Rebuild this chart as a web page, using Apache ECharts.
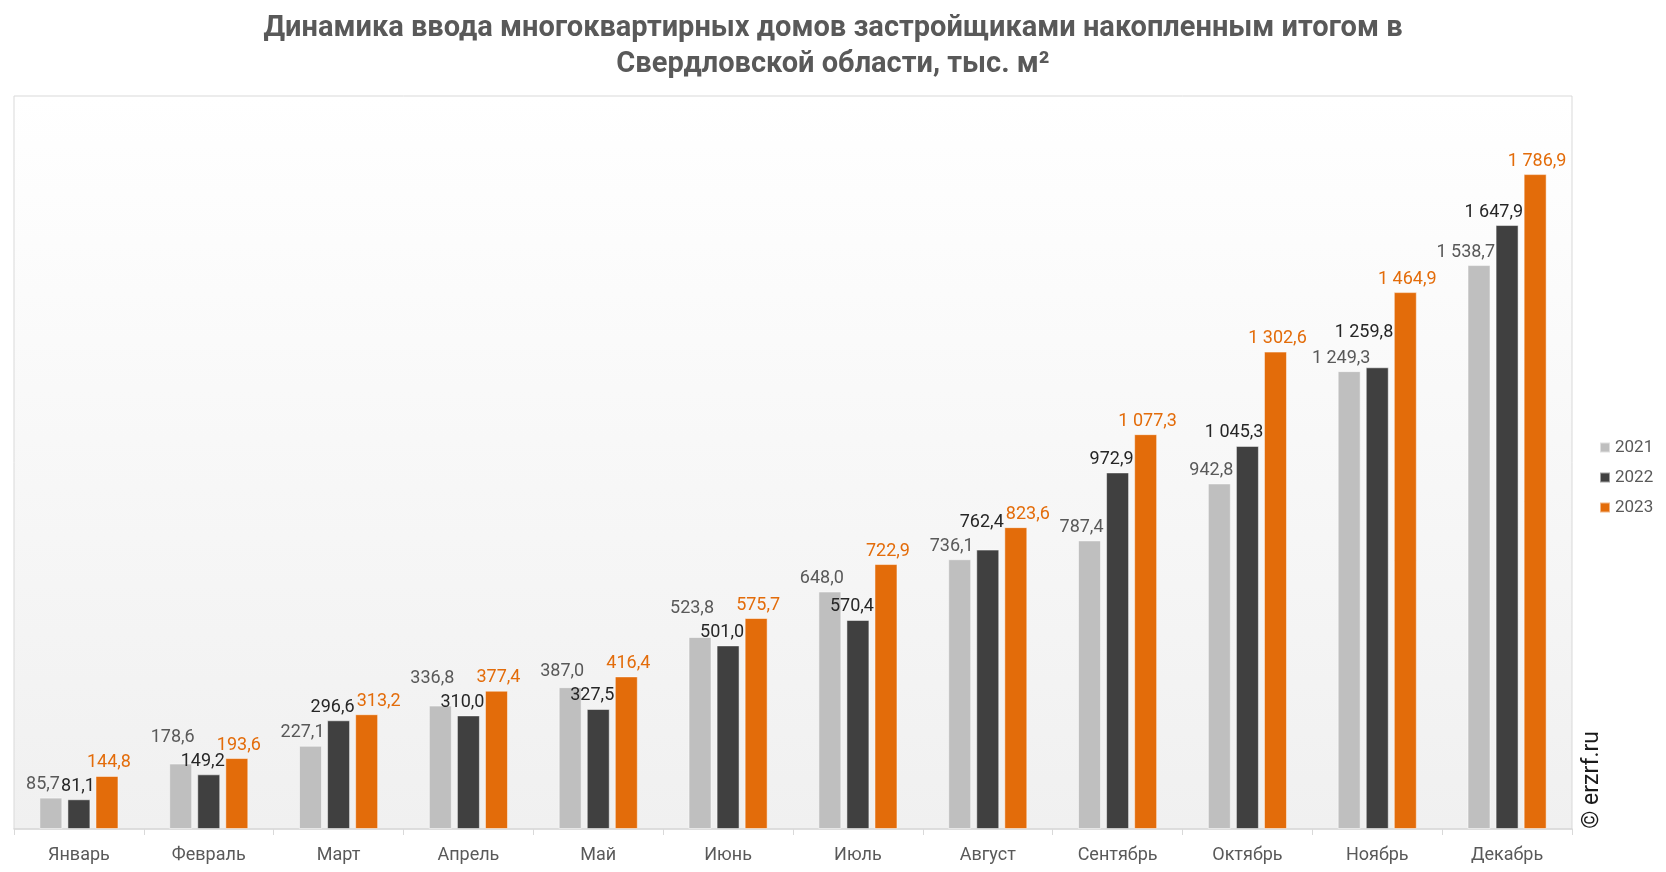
<!DOCTYPE html>
<html>
<head>
<meta charset="utf-8">
<script src="https://cdn.jsdelivr.net/npm/echarts@6/dist/echarts.min.js"></script>
<style>
    html, body { margin: 0; padding: 0; background: #fff; }
    #chart { width: 1666px; height: 872px; }
</style>
</head>
<body>
<div id="chart"></div>
<script>
    var months = ['Январь', 'Февраль', 'Март', 'Апрель', 'Май', 'Июнь', 'Июль', 'Август', 'Сентябрь', 'Октябрь', 'Ноябрь', 'Декабрь'];
    var y2021 = [85.7, 178.6, 227.1, 336.8, 387.0, 523.8, 648.0, 736.1, 787.4, 942.8, 1249.3, 1538.7];
    var y2022 = [81.1, 149.2, 296.6, 310.0, 327.5, 501.0, 570.4, 762.4, 972.9, 1045.3, 1259.8, 1647.9];
    var y2023 = [144.8, 193.6, 313.2, 377.4, 416.4, 575.7, 722.9, 823.6, 1077.3, 1302.6, 1464.9, 1786.9];

    // 1786.9 -> "1 786,9"
    function fmt(v) {
        var s = v.toFixed(1).split('.');
        var int = s[0].replace(/\B(?=(\d{3})+(?!\d))/g, ' ');
        return int + ',' + s[1];
    }

    var ctx = document.createElement('canvas').getContext('2d');
    ctx.font = '18px Roboto';
    function textW(v) { return ctx.measureText(fmt(v)).width; }

    // pixels per unit: plot height 733px for 0..2000
    var k = 733 / 2000;
    var barStep = 28;

    // nudge labels apart where they would collide (the excel original has hand-placed labels)
    var off2021 = [], off2022 = [], off2023 = [];
    for (var i = 0; i < months.length; i++) {
        var b21 = y2021[i] * k, b22 = y2022[i] * k, b23 = y2023[i] * k;
        var w21 = textW(y2021[i]), w22 = textW(y2022[i]), w23 = textW(y2023[i]);
        var o21 = [-8, 0], o22 = [0, 0], o23 = [2, 0];
        var d = b21 - b22;
        if (Math.abs(d) < 8) {
            var need = (w21 + w22) / 2 + 2 - barStep;
            if (need < 14) o21[0] = -need;
            else o22[1] = -22;
        } else if (d > 0 && d < 24) {
            o21[1] = -(24 - d);
        } else if (d < 0 && d > -24) {
            o22[1] = -(24 + d);
        }
        // keep a label off the taller bar to its right
        var l22 = b22 - o22[1];
        if (b23 > l22 + 4) o22[0] = Math.min(o22[0], 16 - w22 / 2);
        var l21 = b21 - o21[1];
        if (b22 > l21 + 4) o21[0] = Math.min(o21[0], 16 - w21 / 2);
        if (Math.abs(b23 - l22) < 15) {
            o23[0] = Math.max(2, (w22 + w23) / 2 + 2 - barStep + o22[0]);
        }
        off2021.push(o21);
        off2022.push(o22);
        off2023.push(o23);
    }

    function bar(name, data, color, labelColor, offsets) {
        return {
            name: name,
            type: 'bar',
            barWidth: 23,
            barGap: '22%',
            itemStyle: { color: color, borderColor: 'rgba(255,255,255,0.5)', borderWidth: 1 },
            data: data.map(function (v, i) {
                return { value: v, label: { offset: offsets[i] } };
            }),
            label: {
                show: true,
                position: 'top',
                distance: 4,
                color: labelColor,
                fontFamily: 'Roboto',
                fontSize: 18,
                formatter: function (p) { return fmt(p.value); }
            }
        };
    }

    var chart = echarts.init(document.getElementById('chart'));
    chart.setOption({
        animation: false,
        backgroundColor: '#fff',
        textStyle: { fontFamily: 'Roboto' },
        title: {
            text: 'Динамика ввода многоквартирных домов застройщиками накопленным итогом в\nСвердловской области, тыс. м²',
            left: 'center',
            top: 6,
            textStyle: {
                fontFamily: 'Roboto',
                fontWeight: 'bold',
                fontSize: 29,
                lineHeight: 36,
                color: '#595959'
            }
        },
        legend: {
            orient: 'vertical',
            left: 1594,
            top: 434,
            itemWidth: 10,
            itemHeight: 10,
            itemGap: 13,
            icon: 'rect',
            textStyle: { color: '#595959', fontSize: 17, fontFamily: 'Roboto' },
            data: ['2021', '2022', '2023']
        },
        grid: {
            left: 14,
            right: 94,
            top: 96,
            bottom: 43,
            show: true,
            borderColor: '#d9d9d9',
            borderWidth: 1,
            backgroundColor: new echarts.graphic.LinearGradient(0, 0, 0, 1, [
                { offset: 0, color: '#ffffff' },
                { offset: 1, color: '#f0f0f0' }
            ])
        },
        xAxis: {
            type: 'category',
            data: months,
            axisLine: { lineStyle: { color: '#d9d9d9', width: 1.5 } },
            axisTick: { show: true, length: 6, lineStyle: { color: '#d9d9d9' } },
            axisLabel: { color: '#595959', fontSize: 18, margin: 17 }
        },
        yAxis: {
            type: 'value',
            min: 0,
            max: 2000,
            show: false,
            splitLine: { show: false }
        },
        graphic: [{
            type: 'text',
            left: 1581,
            top: 731,
            rotation: Math.PI / 2,
            style: {
                text: '© erzrf.ru',
                fontSize: 23,
                fontFamily: 'Roboto',
                fill: '#1a1a1a'
            }
        }],
        series: [
            bar('2021', y2021, '#bfbfbf', '#595959', off2021),
            bar('2022', y2022, '#404040', '#262626', off2022),
            bar('2023', y2023, '#e36c0a', '#e36c0a', off2023)
        ]
    });
</script>
</body>
</html>
